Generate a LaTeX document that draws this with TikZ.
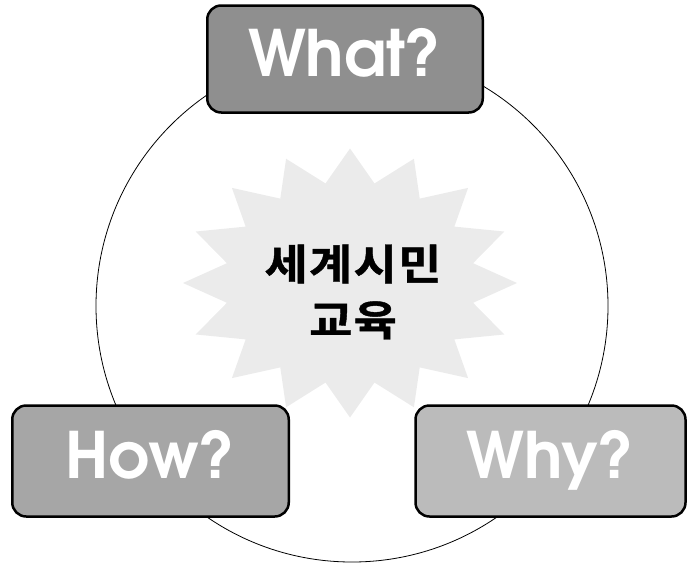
\documentclass[tikz,border=0pt]{standalone}
\usepackage{fontspec}
\newfontfamily\qfont{texgyreadventor-bold.otf}
\newfontfamily\krfont[FakeStretch=1.12, LetterSpace=3, FakeBold=1]{Noto Sans CJK KR Bold}
\definecolor{whatgray}{RGB}{143,143,143}
\definecolor{howgray}{RGB}{166,166,166}
\definecolor{whygray}{RGB}{187,187,187}
\definecolor{starfill}{RGB}{235,235,235}

\begin{document}
\begin{tikzpicture}[x=1pt, y=-1pt,
  qbox/.style={draw, line width=2.5pt, rounded corners=14pt, minimum height=111pt, inner sep=0pt,
    text=white, font=\qfont\fontsize{64}{64}\selectfont, text height=46pt, text depth=12pt},
  corelbl/.style={align=center, font=\krfont\fontsize{42}{56}\selectfont}
]
  \useasboundingbox (0,0) rectangle (687,565);
  \draw[line width=0.8pt] (352,306) circle (256);
  \fill[starfill, shift={(350,283)}] plot[samples at={0,...,31}]
    ({90+11.25*\x}:{ifthenelse(mod(\x,2)==0,167,125.5)} and {ifthenelse(mod(\x,2)==0,134.5,101.5)}) -- cycle;
  \node[corelbl] (core) at (353,292) {세계시민\\교육};
  \node[qbox, fill=whatgray, minimum width=275.5pt, minimum height=107pt] (what) at (345,59) {What?};
  \node[qbox, fill=howgray, minimum width=276.5pt] (how) at (150.5,461) {How?};
  \node[qbox, fill=whygray, minimum width=270pt] (why) at (550.5,461) {Why?};
\end{tikzpicture}
\end{document}
